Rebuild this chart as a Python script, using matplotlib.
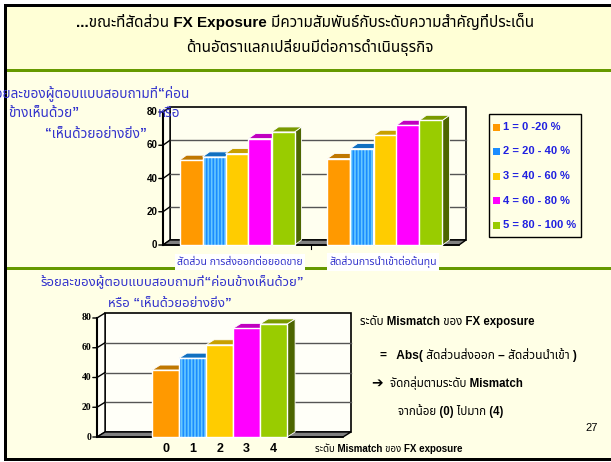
import matplotlib
matplotlib.use('Agg')
import matplotlib.pyplot as plt
from matplotlib import font_manager, ft2font
from matplotlib.patches import Polygon, Rectangle

# data
categories = ['สัดส่วน การส่งออกต่อยอดขาย', 'สัดส่วนการนำเข้าต่อต้นทุน']
legend_labels = ['1 = 0 -20 %', '2 = 20 - 40 %', '3 = 40 - 60 %', '4 = 60 - 80 %', '5 = 80 - 100 %']
export_share = [51, 53, 55, 64, 68]
import_share = [52, 58, 66, 72, 75]
mismatch_levels = ['0', '1', '2', '3', '4']
mismatch_share = [45, 53, 62, 73, 76]
y_ticks = [0, 20, 40, 60, 80]


def find_thai_family():
    hits = []
    for f in font_manager.fontManager.ttflist:
        try:
            cmap = ft2font.FT2Font(f.fname).get_charmap()
        except Exception:
            continue
        if 0x0E01 in cmap:
            hits.append(f.name)
    for pref in ['Noto Sans Thai', 'Noto Sans Thai UI', 'Loma', 'Garuda', 'Tlwg Typo', 'Norasi']:
        if pref in hits:
            return pref
    return hits[0] if hits else 'DejaVu Sans'


THAI = find_thai_family()
SANS = ['Liberation Sans', THAI, 'DejaVu Sans']
SERIF = ['Liberation Serif', THAI, 'DejaVu Sans']
plt.rcParams['font.family'] = SANS

face = ['#FF9900', '#1A8CFF', '#FFCC00', '#FF00FF', '#99CC00']
topc = ['#C07800', '#1070C0', '#C8A000', '#C000C0', '#7A9A00']
sidec = ['#A06000', '#0C5A99', '#A08000', '#990099', '#4D6600']
BLUE_TXT = '#3333CC'
BODY = '#FFFFE6'

W, H = 611, 462
fig = plt.figure(figsize=(W / 100, H / 100), dpi=100)
fig.patch.set_facecolor(BODY)

bg = fig.add_axes([0, 0, 1, 1], zorder=0)
bg.set_xlim(0, W)
bg.set_ylim(H, 0)
bg.axis('off')
bg.add_patch(Rectangle((0, 0), W, 70, color='#FFFFD6'))


def chart_axes(left, right, top, bottom):
    return fig.add_axes([left / W, 1 - bottom / H, (right - left) / W, (bottom - top) / H], zorder=2)


def frame3d(ax, dxp, dyp, tick_family, wall):
    x0, x1 = ax.get_xlim()
    pos = ax.get_position()
    dx = dxp * (x1 - x0) / (pos.width * W)
    dy = dyp * 80 / (pos.height * H)
    ax.add_patch(Polygon([(x0 + dx, dy), (x1 + dx, dy), (x1 + dx, 80 + dy), (x0 + dx, 80 + dy)],
                         closed=True, fc=wall, ec='black', lw=1.2, clip_on=False, zorder=1))
    ax.add_patch(Polygon([(x0, 0), (x0 + dx, dy), (x0 + dx, 80 + dy), (x0, 80)],
                         closed=True, fc=wall, ec='black', lw=1.0, clip_on=False, zorder=1))
    for v in y_ticks[1:-1]:
        ax.plot([x0 + dx, x1 + dx], [v + dy, v + dy], color='#555555', lw=1.0, clip_on=False, zorder=1.5)
        ax.plot([x0, x0 + dx], [v, v + dy], color='black', lw=1.0, clip_on=False, zorder=1.5)
    ax.add_patch(Polygon([(x0, 0), (x1, 0), (x1 + dx, dy), (x0 + dx, dy)],
                         closed=True, fc='#808080', ec='black', lw=1.0, clip_on=False, zorder=2))
    ax.plot([x0, x0], [0, 80], color='black', lw=1.5, clip_on=False, zorder=6)
    ax.plot([x0, x1], [0, 0], color='black', lw=1.2, clip_on=False, zorder=2)
    for v in y_ticks:
        ax.annotate('', xy=(x0, v), xytext=(-3, 0), textcoords='offset points',
                    arrowprops=dict(arrowstyle='-', lw=1.0, color='black', shrinkA=0, shrinkB=0))
        ax.annotate(str(v), xy=(x0, v), xytext=(-4, 0), textcoords='offset points',
                    ha='right', va='center', fontsize=7, fontweight='bold', family=tick_family)
    return dx, dy


def bar3d(ax, x, h, w, i, dx, dy, z):
    xl, xr = x - w / 2, x + w / 2
    ax.add_patch(Polygon([(xr, 0), (xr + dx, dy), (xr + dx, h + dy), (xr, h)], closed=True,
                         fc=sidec[i], ec='white', lw=0.6, clip_on=False, zorder=z))
    ax.add_patch(Polygon([(xl, h), (xr, h), (xr + dx, h + dy), (xl + dx, h + dy)], closed=True,
                         fc=topc[i], ec='white', lw=0.6, clip_on=False, zorder=z))
    if i == 1:
        ax.bar(x, h, w, color=face[i], edgecolor='#66C8FF', hatch='|||||', lw=0, zorder=z + 0.1, clip_on=False)
        ax.bar(x, h, w, fill=False, edgecolor='white', lw=1.0, zorder=z + 0.2, clip_on=False)
    else:
        ax.bar(x, h, w, color=face[i], edgecolor='white', lw=1.0, zorder=z + 0.1, clip_on=False)


plt.rcParams['hatch.linewidth'] = 1.2

# upper chart: share of export / import vs importance level
ax1 = chart_axes(163, 459, 112, 245)
ax1.set_xlim(0, 2)
ax1.set_ylim(0, 80)
ax1.axis('off')
dx1, dy1 = frame3d(ax1, 7, 5, SANS, '#FFFFF0')
bw = 23 / 148
for c, vals in enumerate([export_share, import_share]):
    for i, v in enumerate(vals):
        bar3d(ax1, c + 0.5 + (i - 2) * bw, v, bw, i, dx1, dy1, 3 + c * 10 + i)
ax1.plot([1, 1], [0, -2.5], color='black', lw=0.8, clip_on=False)

# lower chart: mismatch level
ax2 = chart_axes(97, 343, 318, 437)
ax2.set_xlim(-2.54, 6.57)
ax2.set_ylim(0, 80)
ax2.axis('off')
dx2, dy2 = frame3d(ax2, 8, 5, SERIF, '#FFFFF8')
for i, v in enumerate(mismatch_share):
    bar3d(ax2, i, v, 1.0, i, dx2, dy2, 3 + i)
    ax2.annotate(mismatch_levels[i], xy=(i, 0), xytext=(0, -4), textcoords='offset points',
                 ha='center', va='top', fontsize=9, fontweight='bold')

fg = fig.add_axes([0, 0, 1, 1], zorder=10)
fg.set_xlim(0, W)
fg.set_ylim(H, 0)
fg.axis('off')
fg.patch.set_alpha(0)

# title
fg.text(305, 22, '...ขณะที่สัดส่วน FX Exposure มีความสัมพันธ์กับระดับความสำคัญที่ประเด็น',
        ha='center', va='center', fontsize=11, fontweight='bold')
fg.text(310, 48, 'ด้านอัตราแลกเปลี่ยนมีต่อการดำเนินธุรกิจ',
        ha='center', va='center', fontsize=11, fontweight='bold')

# upper chart captions
fg.text(190, 93, 'ร้อยละของผู้ตอบแบบสอบถามที่“ค่อน', ha='right', va='center',
        fontsize=9.8, fontweight='bold', color=BLUE_TXT)
fg.text(8, 113, 'ข้างเห็นด้วย”', ha='left', va='center', fontsize=9.8, fontweight='bold', color=BLUE_TXT)
fg.text(158, 113, 'หรือ', ha='left', va='center', fontsize=9.8, fontweight='bold', color=BLUE_TXT)
fg.text(45, 134, '“เห็นด้วยอย่างยิ่ง”', ha='left', va='center', fontsize=9.8, fontweight='bold', color=BLUE_TXT)
for cx, lbl in zip([240, 383], categories):
    fg.text(cx, 262, lbl, ha='center', va='center', fontsize=7.5, color=BLUE_TXT,
            bbox=dict(boxstyle='square,pad=0.25', fc='white', ec='none'))

# legend box
fg.add_patch(Rectangle((489, 114), 92, 123, fc=BODY, ec='black', lw=1.0))
for i, lbl in enumerate(legend_labels):
    yy = 127 + i * 24.5
    fg.add_patch(Rectangle((493, yy - 3.5), 7, 7, fc=face[i], ec='none'))
    fg.text(503, yy, lbl, ha='left', va='center', fontsize=8, fontweight='bold', color='#2020E0')

# lower chart captions
fg.text(172, 282, 'ร้อยละของผู้ตอบแบบสอบถามที่“ค่อนข้างเห็นด้วย”', ha='center', va='center',
        fontsize=9.5, fontweight='bold', color=BLUE_TXT)
fg.text(170, 304, 'หรือ “เห็นด้วยอย่างยิ่ง”', ha='center', va='center',
        fontsize=9.5, fontweight='bold', color=BLUE_TXT)
fg.text(315, 449, 'ระดับ Mismatch ของ FX exposure', ha='left', va='center', fontsize=7, fontweight='bold')

# notes on the right
fg.text(360, 322, 'ระดับ Mismatch ของ FX exposure', ha='left', va='center', fontsize=8.3, fontweight='bold')
fg.text(380, 355, '=   Abs( สัดส่วนส่งออก – สัดส่วนนำเข้า )', ha='left', va='center', fontsize=8.6, fontweight='bold')
fg.text(371, 383, '➔', ha='left', va='center', fontsize=10, fontweight='bold', family='DejaVu Sans')
fg.text(390, 383, 'จัดกลุ่มตามระดับ Mismatch', ha='left', va='center', fontsize=8.3, fontweight='bold')
fg.text(398, 411, 'จากน้อย (0) ไปมาก (4)', ha='left', va='center', fontsize=8.3, fontweight='bold')
fg.text(585, 428, '27', ha='left', va='center', fontsize=8)

# slide frame and separators
fg.add_patch(Rectangle((5, 69), W - 5, 3, fc='#669900', ec='none'))
fg.add_patch(Rectangle((5, 267), W - 5, 3, fc='#669900', ec='none'))
fg.add_patch(Rectangle((0, 0), 4, H, fc='white', ec='none'))
fg.add_patch(Rectangle((4, 4), 2.5, 456, fc='black', ec='none'))
fg.add_patch(Rectangle((0, 0), W, 4, fc='white', ec='none'))
fg.add_patch(Rectangle((4, 4), W - 4, 2.5, fc='black', ec='none'))
fg.add_patch(Rectangle((4, 458), W - 4, 2.5, fc='black', ec='none'))
fg.add_patch(Rectangle((0, 460.5), W, 2, fc='white', ec='none'))

fig.savefig('out.png', dpi=100, facecolor=fig.get_facecolor())
